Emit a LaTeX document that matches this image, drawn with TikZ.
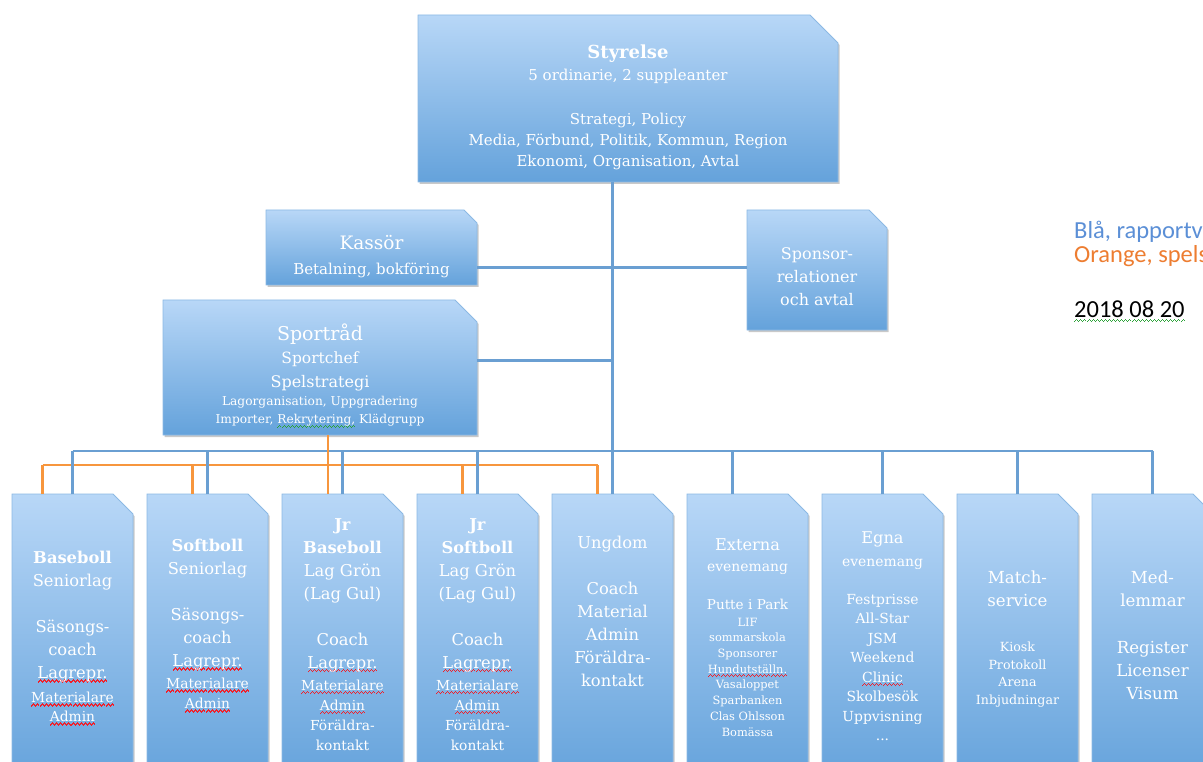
\documentclass[tikz,border=0pt]{standalone}
\usepackage{fontspec}
\setmainfont{DejaVu Serif}
\newfontfamily\notefont{Carlito}
\usetikzlibrary{positioning,shadows,calc}

\definecolor{boxtop}{HTML}{B8D7F7}
\definecolor{boxbot}{HTML}{64A2DB}
\definecolor{boxline}{HTML}{8CB9E4}
\definecolor{linkblue}{HTML}{6A9FD2}
\definecolor{linkorange}{HTML}{F7963D}
\definecolor{noteblue}{HTML}{5B8FD6}
\definecolor{noteorange}{HTML}{ED7D31}
\definecolor{squigred}{HTML}{F0202A}
\definecolor{squiggreen}{HTML}{2EA33A}

\newcommand{\fsz}[2]{\fontsize{#1}{#2}\selectfont}
% spell check wave under a word: colour, text
\newsavebox{\sqbox}
\newcommand{\squig}[2]{\leavevmode\sbox{\sqbox}{#2}%
  \rlap{\color{#1}\xleaders\hbox{\rule[-4.2pt]{1pt}{1.4pt}\rule[-3.2pt]{1pt}{1.4pt}%
    \rule[-2.2pt]{1pt}{1.4pt}\rule[-3.2pt]{1pt}{1.4pt}}\hskip\wd\sqbox}\usebox{\sqbox}}
\newcommand{\redsq}[1]{\squig{squigred}{#1}}
\newcommand{\greensq}[1]{\squig{squiggreen}{#1}}

% box with snipped top right corner: name, x, y, width, height, cut
\newcommand{\orgbox}[6]{%
  \path[boxfill] (#2,#3) -- ({#2+#4-#6},#3) -- ({#2+#4},{#3+#6})
    -- ({#2+#4},{#3+#5}) -- (#2,{#3+#5}) -- cycle;
  \node[boxanchor, minimum width=#4pt, minimum height=#5pt] (#1)
    at ({#2+#4/2},{#3+#5/2}) {};
}

\begin{document}
\begin{tikzpicture}[x=1pt, y=-1pt,
  boxfill/.style={draw=boxline, line width=0.8pt, top color=boxtop, bottom color=boxbot,
    drop shadow={shadow xshift=1.5pt, shadow yshift=-2pt, opacity=0.3, fill=black!70}},
  boxanchor/.style={rectangle, inner sep=0pt, outer sep=0pt},
  boxtext/.style={text=white, align=center, inner sep=0pt},
  blueline/.style={draw=linkblue, line width=2.8pt},
  orangeline/.style={draw=linkorange, line width=2.8pt},
  note/.style={anchor=base west, inner sep=0pt, font=\notefont\fsz{24.5}{30}}]
\useasboundingbox (0,0) rectangle (1203,762);
\clip (0,0) rectangle (1203,762);

% boxes
\orgbox{sty}{418}{15}{420}{167}{28}
\orgbox{kassor}{266}{210}{211}{75}{13}
\orgbox{sponsor}{747}{210}{140}{120}{18}
\orgbox{sport}{163}{300}{314}{135}{22}
\foreach \n [count=\i from 0] in {base,soft,jrbase,jrsoft,ungdom,extern,egna,match,medlem}
  {\orgbox{\n}{12+135*\i}{494}{121}{290}{20}}

% connectors
\coordinate (bus) at (0,451);
\coordinate (obus) at (0,465);
\draw[blueline] (sty.south -| ungdom.north) -- (ungdom.north);
\draw[blueline] ([yshift=-20pt]kassor.east) -- ([yshift=-20pt]kassor.east -| sponsor.west);
\draw[blueline] ([yshift=7pt]sport.east) -- ([yshift=7pt]sport.east -| ungdom.north);
\draw[blueline] (base.north |- bus) -- (medlem.north |- bus);
\draw[orangeline] ([xshift=-30pt]base.north |- obus) -- ([xshift=-15pt]ungdom.north |- obus);
\foreach \n/\dx in {base/-30,soft/-15,jrsoft/-15,ungdom/-15}
  \draw[orangeline] ([xshift=\dx pt]\n.north) -- ([xshift=\dx pt]\n.north |- obus);
\foreach \n/\dx in {base/0,soft/0,jrbase/0,jrsoft/0,extern/-15,egna/0,match/0,medlem/0}
  \draw[blueline] ([xshift=\dx pt]\n.north) -- ([xshift=\dx pt]\n.north |- bus);
\draw[orangeline] ([xshift=8pt]sport.south) -- ([xshift=8pt]sport.south |- jrbase.north);

% texts
\node[boxtext, font=\fsz{15}{21}, below=30pt of sty.north] (styT)
  {{\fsz{18}{22}\bfseries Styrelse}\\[1pt]
   5 ordinarie, 2 suppleanter\\[23pt]
   Strategi, Policy\\
   Media, Förbund, Politik, Kommun, Region\\
   Ekonomi, Organisation, Avtal};
\node[boxtext, font=\fsz{15}{25}, below=25pt of kassor.north] (kassorT)
  {{\fsz{18.5}{25}Kassör}\\ Betalning, bokföring};
\node[boxtext, font=\fsz{16}{23}, below=37pt of sponsor.north] (sponsorT)
  {Sponsor-\\relationer\\och avtal};
\node[boxtext, font=\fsz{16}{24}, below=24pt of sport.north] (sportT)
  {{\fsz{19}{25}Sportråd}\\[-1pt]
   {\fsz{15.5}{24}Sportchef}\\
   Spelstrategi\\[-6pt]
   {\fsz{12.2}{18}Lagorganisation, Uppgradering}\\[-6pt]
   {\fsz{12.2}{18}Importer, \greensq{Rekrytering,} Klädgrupp}};

\node[boxtext, font=\fsz{16.3}{23}, below=57pt of base.north] (baseT)
  {\textbf{Baseboll}\\ Seniorlag\\[23pt]
   Säsongs-\\coach\\ \redsq{Lagrepr.}\\[1pt]
   {\fsz{13.8}{19}\redsq{Materialare}}\\[-4pt]
   {\fsz{13.8}{19}\redsq{Admin}}};
\node[boxtext, font=\fsz{16.3}{23}, below=45pt of soft.north] (softT)
  {\textbf{Softboll}\\ Seniorlag\\[23pt]
   Säsongs-\\coach\\ \redsq{Lagrepr.}\\[-1pt]
   {\fsz{13.8}{19}\redsq{Materialare}}\\[-3pt]
   {\fsz{13.8}{19}\redsq{Admin}}};
\node[boxtext, font=\fsz{16.3}{23}, below=24pt of jrbase.north] (jrbaseT)
  {\textbf{Jr}\\ \textbf{Baseboll}\\ Lag Grön\\(Lag Gul)\\[23pt]
   Coach\\ \redsq{Lagrepr.}\\[-1pt]
   {\fsz{13.8}{19}\redsq{Materialare}}\\[-3pt]
   {\fsz{13.8}{19}\redsq{Admin}}\\[-3pt]
   {\fsz{13.8}{19}Föräldra-}\\[-3pt]
   {\fsz{13.8}{19}kontakt}};
\node[boxtext, font=\fsz{16.3}{23}, below=24pt of jrsoft.north] (jrsoftT)
  {\textbf{Jr}\\ \textbf{Softboll}\\ Lag Grön\\(Lag Gul)\\[23pt]
   Coach\\ \redsq{Lagrepr.}\\[-1pt]
   {\fsz{13.8}{19}\redsq{Materialare}}\\[-3pt]
   {\fsz{13.8}{19}\redsq{Admin}}\\[-3pt]
   {\fsz{13.8}{19}Föräldra-}\\[-3pt]
   {\fsz{13.8}{19}kontakt}};
\node[boxtext, font=\fsz{16.3}{23}, below=42pt of ungdom.north] (ungdomT)
  {Ungdom\\[23pt]
   Coach\\Material\\Admin\\Föräldra-\\kontakt};
\node[boxtext, font=\fsz{11.4}{15.7}, below=44pt of extern.north] (externT)
  {{\fsz{16.2}{23}Externa}\\[6pt]
   {\fsz{13.9}{19}evenemang}\\[22pt]
   {\fsz{13.6}{19}Putte i Park}\\[1pt]
   LIF\\sommarskola\\Sponsorer\\ \redsq{Hundutställn.}\\
   Vasaloppet\\Sparbanken\\Clas Ohlsson\\Bomässa};
\node[boxtext, font=\fsz{13.9}{19.5}, below=37pt of egna.north] (egnaT)
  {{\fsz{16.2}{23}Egna}\\[3.5pt]
   evenemang\\[18.5pt]
   Festprisse\\All-Star\\JSM\\Weekend\\ \redsq{Clinic}\\
   Skolbesök\\Uppvisning\\...};
\node[boxtext, font=\fsz{12.6}{17.5}, below=77pt of match.north] (matchT)
  {{\fsz{16.6}{23}Match-}\\[5.5pt]
   {\fsz{16.6}{23}service}\\[27.5pt]
   Kiosk\\Protokoll\\Arena\\Inbjudningar};
\node[boxtext, font=\fsz{16.6}{23}, below=77pt of medlem.north] (medlemT)
  {Med-\\lemmar\\[24pt]
   Register\\Licenser\\Visum};

% notes
\node[note, text=noteblue] (noteBlue) at (1074,239) {Blå, rapportv};
\node[note, text=noteorange] (noteOrange) at (1074,263) {Orange, spels};
\node[note, text=black] (noteDate) at (1074,318) {\greensq{2018 08 20}};
\end{tikzpicture}
\end{document}
